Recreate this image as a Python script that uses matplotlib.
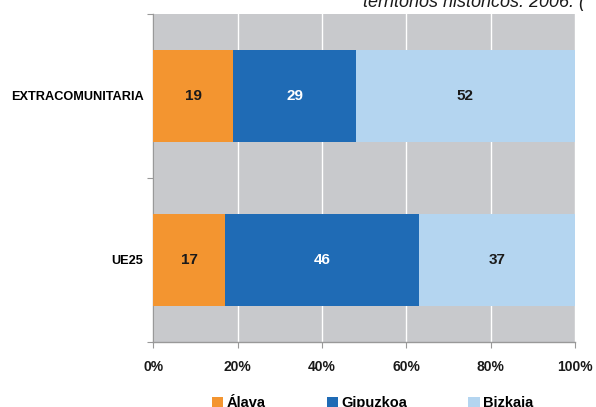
import matplotlib.pyplot as plt
import numpy as np

plt.rcParams['font.family'] = ['Liberation Sans', 'DejaVu Sans']

# data
categories = ['UE25', 'EXTRACOMUNITARIA']
alava = [17, 19]
gipuzkoa = [46, 29]
bizkaia = [37, 52]
series_names = ['Álava', 'Gipuzkoa', 'Bizkaia']
colors = ['#F39530', '#1F6BB5', '#B4D5F0']
text_colors = ['#1a1a1a', 'white', '#1a1a1a']

fig = plt.figure(figsize=(5.96, 4.07), dpi=100)
ax = fig.add_axes([0.257, 0.160, 0.708, 0.806])
ax.set_facecolor('#C8C9CC')

y = np.arange(len(categories))
left = np.zeros(len(categories))
for name, vals, col, tcol in zip(series_names, [alava, gipuzkoa, bizkaia], colors, text_colors):
    vals = np.array(vals)
    bars = ax.barh(y, vals, height=0.56, left=left, color=col, label=name, zorder=3)
    ax.bar_label(bars, labels=[str(v) for v in vals], label_type='center',
                 color=tcol, fontsize=11, fontweight='bold')
    left += vals

ax.set_xlim(0, 100)
ax.set_ylim(-0.5, 1.5)
ax.set_xticks(np.arange(0, 101, 20))
ax.set_xticklabels([f'{v}%' for v in range(0, 101, 20)], fontsize=10, fontweight='bold')
ax.grid(axis='x', color='white', linewidth=1, zorder=1)

ax.set_yticks([-0.5, 0.5, 1.5])
ax.set_yticklabels([])
ax.set_yticks(y, minor=True)
ax.set_yticklabels(categories, minor=True, fontsize=9.2, fontweight='bold')
ax.tick_params(axis='y', which='minor', length=0, pad=7)
ax.tick_params(axis='y', which='major', length=4, color='#999999')
ax.tick_params(axis='x', length=4, color='#999999', pad=9, labelcolor='#1a1a1a')

for s in ['top', 'right']:
    ax.spines[s].set_visible(False)
for s in ['left', 'bottom']:
    ax.spines[s].set_color('#999999')
    ax.spines[s].set_linewidth(1)

leg = fig.legend(loc='lower center', bbox_to_anchor=(0.625, -0.04), ncol=3, frameon=False,
                 handlelength=0.8, handleheight=0.8, handletextpad=0.2, columnspacing=4.2,
                 prop={'weight': 'bold', 'size': 10.5})

fig.text(0.609, 0.983, 'territorios históricos. 2006. (', fontsize=13, style='italic',
         va='baseline', ha='left', color='#1a1a1a')

fig.savefig('out.png', dpi=100)
